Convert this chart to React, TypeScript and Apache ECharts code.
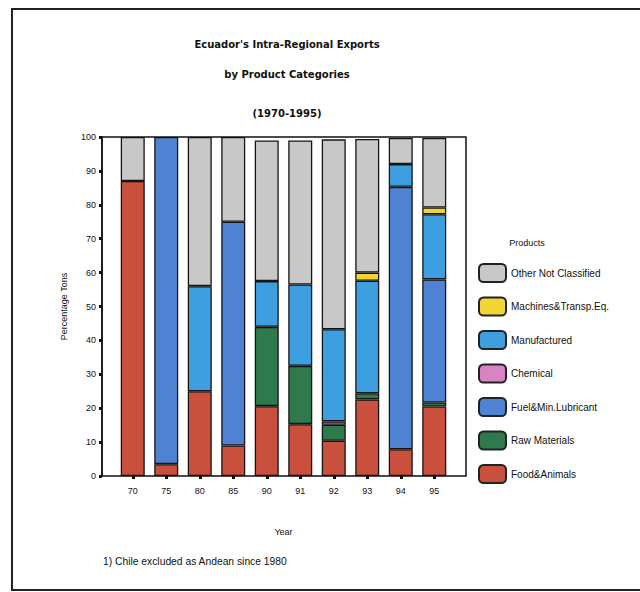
import React, { useEffect, useRef } from "react";
import * as echarts from "echarts";

const years = ["70", "75", "80", "85", "90", "91", "92", "93", "94", "95"];
const yTicks = [0, 10, 20, 30, 40, 50, 60, 70, 80, 90, 100];

// Shares of intra-regional exports by product category (percentage of tons)
const foodAnimals = [87, 3.5, 25, 9, 20.6, 15.3, 10.4, 22.6, 7.9, 20.5];
const rawMaterials = [null, null, null, null, 23.4, 17.2, 4.7, 1.8, null, 1.2];
const fuelLubricant = [null, 96.5, null, 66, null, null, null, null, 77.4, 36.3];
const chemical = [null, null, null, null, null, null, 1, null, null, null];
const manufactured = [null, null, 31, null, 13.5, 24, 27.2, 33.2, 6.7, 19.2];
const machines = [null, null, null, null, null, null, null, 2.4, null, 2];
const otherNotClassified = [13, null, 44, 25, 41.5, 42.5, 56, 39.4, 7.7, 20.5];

const seriesDefs = [
  { name: "Food&Animals", data: foodAnimals, color: "#c9503c" },
  { name: "Raw Materials", data: rawMaterials, color: "#2f7a4c" },
  { name: "Fuel&Min.Lubricant", data: fuelLubricant, color: "#4f82d2" },
  { name: "Chemical", data: chemical, color: "#d982c4" },
  { name: "Manufactured", data: manufactured, color: "#3e9fe0" },
  { name: "Machines&Transp.Eq.", data: machines, color: "#f1d534" },
  { name: "Other Not Classified", data: otherNotClassified, color: "#c8c8c8" },
];

const FONT = "'Liberation Sans', Arial, sans-serif";
const TITLE_FONT = "bold 10px 'DejaVu Sans', sans-serif";

export default function App() {
  const ref = useRef<HTMLDivElement>(null);

  useEffect(() => {
    if (!ref.current) return;
    const chart = echarts.init(ref.current, null, { renderer: "svg" });
    const option = {
      animation: false,
      backgroundColor: "#ffffff",
      textStyle: { fontFamily: FONT },
      grid: { left: 116, right: 189, top: 137, bottom: 116 },
      legend: {
        orient: "vertical",
        left: 478,
        top: 263,
        padding: 0,
        itemWidth: 27,
        itemHeight: 18,
        itemGap: 13.5,
        icon: "roundRect",
        data: seriesDefs.map((s) => s.name).reverse(),
        textStyle: { fontSize: 10, color: "#111", fontFamily: FONT },
        itemStyle: { borderColor: "#222", borderWidth: 2 },
        selectedMode: false,
      },
      xAxis: {
        type: "category",
        data: years,
        axisLine: { show: false },
        axisTick: {
          show: true,
          alignWithLabel: true,
          length: 3,
          lineStyle: { color: "#111", width: 3 },
        },
        axisLabel: { fontSize: 9, color: "#111", margin: 10 },
        name: "Year",
        nameLocation: "middle",
        nameGap: 51,
        nameTextStyle: { fontSize: 9, color: "#111" },
      },
      yAxis: {
        type: "value",
        min: 0,
        max: 100,
        interval: 10,
        offset: 14,
        splitLine: { show: false },
        axisLine: { show: true, lineStyle: { color: "#111", width: 1.5 } },
        axisTick: { show: true, length: 3, lineStyle: { color: "#111", width: 3 } },
        axisLabel: {
          fontSize: 9,
          color: "#111",
          margin: 6,
          formatter: (v: number) => (yTicks.includes(v) ? String(v) : ""),
        },
        name: "Percentage Tons",
        nameLocation: "middle",
        nameGap: 34,
        nameRotate: 90,
        nameTextStyle: { fontSize: 9, color: "#111" },
      },
      series: seriesDefs.map((s) => ({
        name: s.name,
        type: "bar",
        stack: "share",
        barWidth: 24,
        data: s.data.map((v) => (v === null ? "-" : v)),
        itemStyle: { color: s.color, borderColor: "#151515", borderWidth: 1.3 },
      })),
      graphic: [
        // plot frame
        {
          type: "rect",
          shape: { x: 102, y: 137, width: 364, height: 339 },
          style: { fill: "none", stroke: "#111", lineWidth: 1.5 },
          z: 100,
        },
        // outer page frame
        {
          type: "polyline",
          shape: { points: [[640, 9], [12, 9], [12, 590], [640, 590]] },
          style: { fill: "none", stroke: "#222", lineWidth: 2 },
        },
        {
          type: "text",
          x: 287,
          y: 44,
          style: {
            text: "Ecuador's Intra-Regional Exports",
            font: TITLE_FONT,
            fill: "#111",
            align: "center",
            verticalAlign: "middle",
          },
        },
        {
          type: "text",
          x: 287,
          y: 74,
          style: {
            text: "by Product Categories",
            font: TITLE_FONT,
            fill: "#111",
            align: "center",
            verticalAlign: "middle",
          },
        },
        {
          type: "text",
          x: 287,
          y: 113,
          style: {
            text: "(1970-1995)",
            font: TITLE_FONT,
            fill: "#111",
            align: "center",
            verticalAlign: "middle",
          },
        },
        {
          type: "text",
          x: 527,
          y: 243,
          style: {
            text: "Products",
            font: `9px ${FONT}`,
            fill: "#111",
            align: "center",
            verticalAlign: "middle",
          },
        },
        {
          type: "text",
          x: 103,
          y: 561,
          style: {
            text: "1) Chile excluded as Andean since 1980",
            font: `10.3px ${FONT}`,
            fill: "#111",
            align: "left",
            verticalAlign: "middle",
          },
        },
      ],
    };
    chart.setOption(option as any);
    return () => chart.dispose();
  }, []);

  return (
    <div
      ref={ref}
      style={{ position: "absolute", left: 0, top: 0, width: 640, height: 592 }}
    />
  );
}
